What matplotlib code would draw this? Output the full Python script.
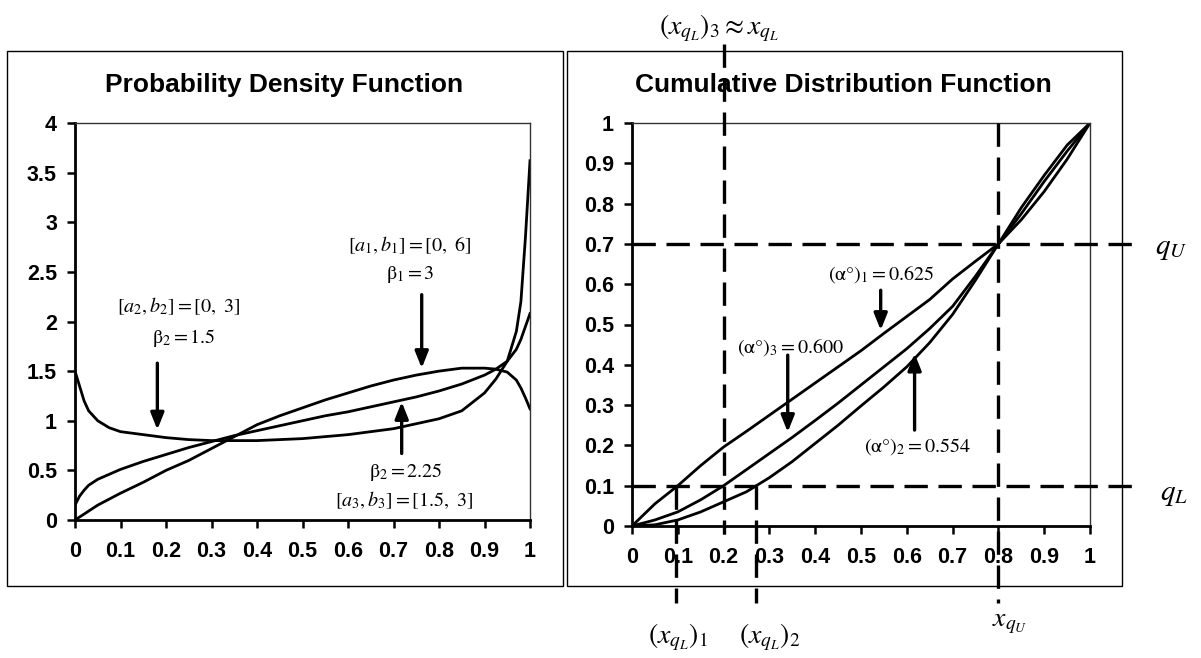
import numpy as np
import matplotlib.pyplot as plt
from matplotlib.patches import Rectangle

plt.rcParams['font.family'] = ['Liberation Sans', 'DejaVu Sans']
plt.rcParams['mathtext.fontset'] = 'stix'

# ---- data ----
pdf_x = [0, 0.01, 0.02, 0.03, 0.05, 0.075, 0.1, 0.15, 0.2, 0.25, 0.3, 0.35,
         0.4, 0.45, 0.5, 0.55, 0.6, 0.65, 0.7, 0.75, 0.8, 0.85, 0.9, 0.925,
         0.95, 0.97, 0.98, 0.99, 1.0]
# [a1,b1] = [0, 6], beta1 = 3
pdf_1 = [0.0, 0.03, 0.06, 0.09, 0.15, 0.21, 0.27, 0.38, 0.5, 0.6, 0.72, 0.84,
         0.96, 1.05, 1.13, 1.21, 1.28, 1.35, 1.41, 1.46, 1.5, 1.53, 1.53, 1.52,
         1.49, 1.41, 1.33, 1.23, 1.12]
# [a2,b2] = [0, 3], beta2 = 1.5
pdf_2 = [1.5, 1.35, 1.2, 1.1, 1.0, 0.93, 0.89, 0.86, 0.83, 0.81, 0.8, 0.8,
         0.8, 0.81, 0.82, 0.84, 0.86, 0.89, 0.92, 0.97, 1.02, 1.1, 1.28, 1.42,
         1.6, 1.9, 2.2, 2.85, 3.62]
# [a3,b3] = [1.5, 3], beta2 = 2.25
pdf_3 = [0.15, 0.24, 0.3, 0.35, 0.41, 0.46, 0.51, 0.59, 0.66, 0.73, 0.79, 0.85,
         0.9, 0.95, 1.0, 1.05, 1.09, 1.14, 1.19, 1.24, 1.3, 1.37, 1.46, 1.52,
         1.6, 1.72, 1.82, 1.95, 2.08]

cdf_x = [0, 0.05, 0.1, 0.15, 0.2, 0.25, 0.3, 0.35, 0.4, 0.45, 0.5, 0.55, 0.6,
         0.65, 0.7, 0.75, 0.8, 0.85, 0.9, 0.95, 1.0]
cdf_1 = [0, 0.055, 0.1, 0.15, 0.196, 0.235, 0.275, 0.315, 0.355, 0.395, 0.435,
         0.478, 0.52, 0.562, 0.613, 0.657, 0.7, 0.76, 0.83, 0.91, 1.0]
cdf_2 = [0, 0.003, 0.015, 0.035, 0.06, 0.085, 0.12, 0.16, 0.205, 0.25, 0.298,
         0.345, 0.395, 0.455, 0.525, 0.61, 0.7, 0.79, 0.87, 0.945, 1.0]
cdf_3 = [0, 0.015, 0.035, 0.065, 0.1, 0.14, 0.18, 0.22, 0.262, 0.305, 0.35,
         0.395, 0.44, 0.49, 0.545, 0.62, 0.7, 0.775, 0.855, 0.93, 1.0]

q_L, q_U = 0.1, 0.7
x_qL = [0.097, 0.27, 0.2]   # (x_qL)_1, (x_qL)_2, (x_qL)_3
x_qU = 0.8

pdf_yticks = [0, 0.5, 1, 1.5, 2, 2.5, 3, 3.5, 4]
pdf_ylabels = ['0', '0.5', '1', '1.5', '2', '2.5', '3', '3.5', '4']
cdf_yticks = [0, 0.1, 0.2, 0.3, 0.4, 0.5, 0.6, 0.7, 0.8, 0.9, 1]
unit_labels = ['0', '0.1', '0.2', '0.3', '0.4', '0.5', '0.6', '0.7', '0.8',
               '0.9', '1']

W, H = 1201, 658
fig = plt.figure(figsize=(W / 100, H / 100), dpi=100)

# panel frames
for x0, x1 in [(7, 563), (567, 1122)]:
    fig.patches.append(Rectangle((x0 / W, 1 - 586 / H), (x1 - x0) / W,
                                 535 / H, transform=fig.transFigure,
                                 fill=False, ec='k', lw=1.0))

ax1 = fig.add_axes([75 / W, 1 - 520 / H, 455 / W, 397 / H])
ax2 = fig.add_axes([632 / W, 1 - 526 / H, 458 / W, 403 / H])


def style(ax):
    ax.set_xlim(0, 1)
    ax.set_xticks(cdf_yticks)
    ax.set_xticklabels(unit_labels)
    for s in ['left', 'bottom']:
        ax.spines[s].set_linewidth(2.0)
        ax.spines[s].set_color('k')
    for s in ['top', 'right']:
        ax.spines[s].set_linewidth(1.0)
        ax.spines[s].set_color('#333333')
    ax.tick_params(direction='out', length=6, width=1.8, labelsize=15.5)
    ax.tick_params(axis='x', pad=9)
    ax.tick_params(axis='y', pad=7)
    for lab in ax.get_xticklabels() + ax.get_yticklabels():
        lab.set_fontweight('bold')


lw = 2.0
ax1.plot(pdf_x, pdf_1, color='k', lw=lw)
ax1.plot(pdf_x, pdf_2, color='k', lw=lw)
ax1.plot(pdf_x, pdf_3, color='k', lw=lw)
ax1.set_ylim(0, 4)
ax1.set_yticks(pdf_yticks)
ax1.set_yticklabels(pdf_ylabels)
style(ax1)
fig.text(284 / W, 1 - 85 / H, 'Probability Density Function', ha='center',
         va='center', fontsize=19, fontweight='bold')

ann = dict(ha='center', va='center', fontsize=14.5)
arr = dict(arrowstyle='-|>,head_width=0.4,head_length=1.0', color='k',
           lw=2.4, shrinkA=0, shrinkB=0)
ax1.text(0.736, 2.77, r'$[a_1,b_1] = [0,\ 6]$', **ann)
ax1.text(0.736, 2.47, r'$\mathrm{\beta}_1 = 3$', **ann)
ax1.annotate('', xy=(0.762, 1.53), xytext=(0.762, 2.27), arrowprops=arr)
ax1.text(0.227, 2.15, r'$[a_2,b_2] = [0,\ 3]$', **ann)
ax1.text(0.24, 1.83, r'$\mathrm{\beta}_2 = 1.5$', **ann)
ax1.annotate('', xy=(0.181, 0.91), xytext=(0.181, 1.58), arrowprops=arr)
ax1.annotate('', xy=(0.718, 1.19), xytext=(0.718, 0.67), arrowprops=arr)
ax1.text(0.728, 0.48, r'$\mathrm{\beta}_2 = 2.25$', **ann)
ax1.text(0.724, 0.20, r'$[a_3,b_3] = [1.5,\ 3]$', **ann)

ax2.plot(cdf_x, cdf_1, color='k', lw=lw)
ax2.plot(cdf_x, cdf_2, color='k', lw=lw)
ax2.plot(cdf_x, cdf_3, color='k', lw=lw)
ax2.set_ylim(0, 1)
ax2.set_yticks(cdf_yticks)
ax2.set_yticklabels(unit_labels)
style(ax2)
fig.text(843 / W, 1 - 85 / H, 'Cumulative Distribution Function',
         ha='center', va='center', fontsize=19, fontweight='bold')

dash = dict(color='k', lw=2.4, ls=(0, (7, 3.2)), clip_on=False, zorder=5)
ax2.plot([0, 1.11], [q_U, q_U], **dash)
ax2.plot([0, 1.11], [q_L, q_L], **dash)
ax2.plot([x_qL[2], x_qL[2]], [1.195, -0.02], **dash)
ax2.plot([x_qU, x_qU], [1.0, -0.19], **dash)
ax2.plot([x_qL[0], x_qL[0]], [q_L, -0.19], **dash)
ax2.plot([x_qL[1], x_qL[1]], [q_L, -0.19], **dash)

lab = dict(ha='center', va='center', fontsize=20)
ax2.text(1.143, 0.69, r'$q_U$', ha='left', va='center', fontsize=21)
ax2.text(1.152, 0.08, r'$q_L$', ha='left', va='center', fontsize=21)
ax2.text(0.19, 1.235, r'$(x_{q_L})_\mathit{3} \approx x_{q_L}$', **lab)
ax2.text(0.825, -0.24, r'$x_{q_U}$', **lab)
ax2.text(0.1, -0.275, r'$(x_{q_L})_\mathit{1}$', **lab)
ax2.text(0.30, -0.275, r'$(x_{q_L})_\mathit{2}$', **lab)

ax2.text(0.543, 0.623, r'$(\mathrm{\alpha}°)_1 = 0.625$', **ann)
ax2.annotate('', xy=(0.543, 0.486), xytext=(0.543, 0.585), arrowprops=arr)
ax2.text(0.346, 0.444, r'$(\mathrm{\alpha}°)_3 = 0.600$', **ann)
ax2.annotate('', xy=(0.34, 0.233), xytext=(0.34, 0.424), arrowprops=arr)
ax2.annotate('', xy=(0.617, 0.428), xytext=(0.617, 0.238), arrowprops=arr)
ax2.text(0.623, 0.196, r'$(\mathrm{\alpha}°)_2 = 0.554$', **ann)

fig.savefig('out.png', dpi=100)
